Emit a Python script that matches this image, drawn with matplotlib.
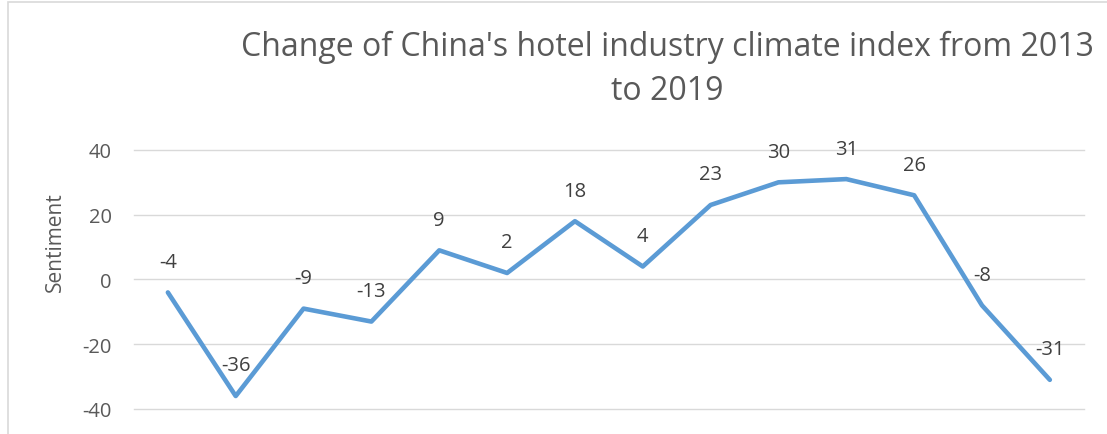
import matplotlib.pyplot as plt
from matplotlib.patches import Rectangle
import numpy as np

# Data
values = [-4, -36, -9, -13, 9, 2, 18, 4, 23, 30, 31, 26, -8, -31]
y_ticks = [-40, -20, 0, 20, 40]
title = "Change of China's hotel industry climate index from 2013\nto 2019"
y_label = "Sentiment"

grey = '#595959'
plt.rcParams['font.family'] = ['Open Sans', 'DejaVu Sans']
plt.rcParams['axes.unicode_minus'] = False

fig = plt.figure(figsize=(11.07, 4.35), dpi=100)
ax = fig.add_axes([0.121, 0.0575, 0.858, 0.5955])

x = np.arange(len(values))
ax.plot(x, values, color='#5B9BD5', linewidth=3.3, solid_capstyle='round')

for xi, v in zip(x, values):
    ax.annotate(str(v), (xi, v), xytext=(0, 22), textcoords='offset points',
                ha='center', va='center', fontsize=14.5, color='#404040')

ax.set_xlim(-0.5, len(values) - 0.5)
ax.set_ylim(-40, 40)
ax.set_yticks(y_ticks)
ax.set_xticks([])
ax.tick_params(axis='y', length=0, pad=16, labelsize=14.5, labelcolor=grey)
ax.grid(axis='y', color='#D9D9D9', linewidth=1)
for gl in ax.get_ygridlines():
    gl.set_clip_on(False)
ax.set_axisbelow(True)
for s in ax.spines.values():
    s.set_visible(False)

# y label sits a bit above the axis centre, like the original
fig.text(55 / 1107, 1 - 242 / 435, y_label, rotation=90, ha='center',
         va='center', fontsize=15, color=grey)

fig.text(0.603, 0.84, title, ha='center', va='center', fontsize=23,
         color=grey, linespacing=1.45)

# chart border
fig.patches.append(Rectangle((8 / 1107, -0.1), 1.2, 1.1 - 3 / 435,
                             transform=fig.transFigure, fill=False,
                             edgecolor='#D9D9D9', linewidth=1.2))

fig.savefig('out.png', dpi=100)
